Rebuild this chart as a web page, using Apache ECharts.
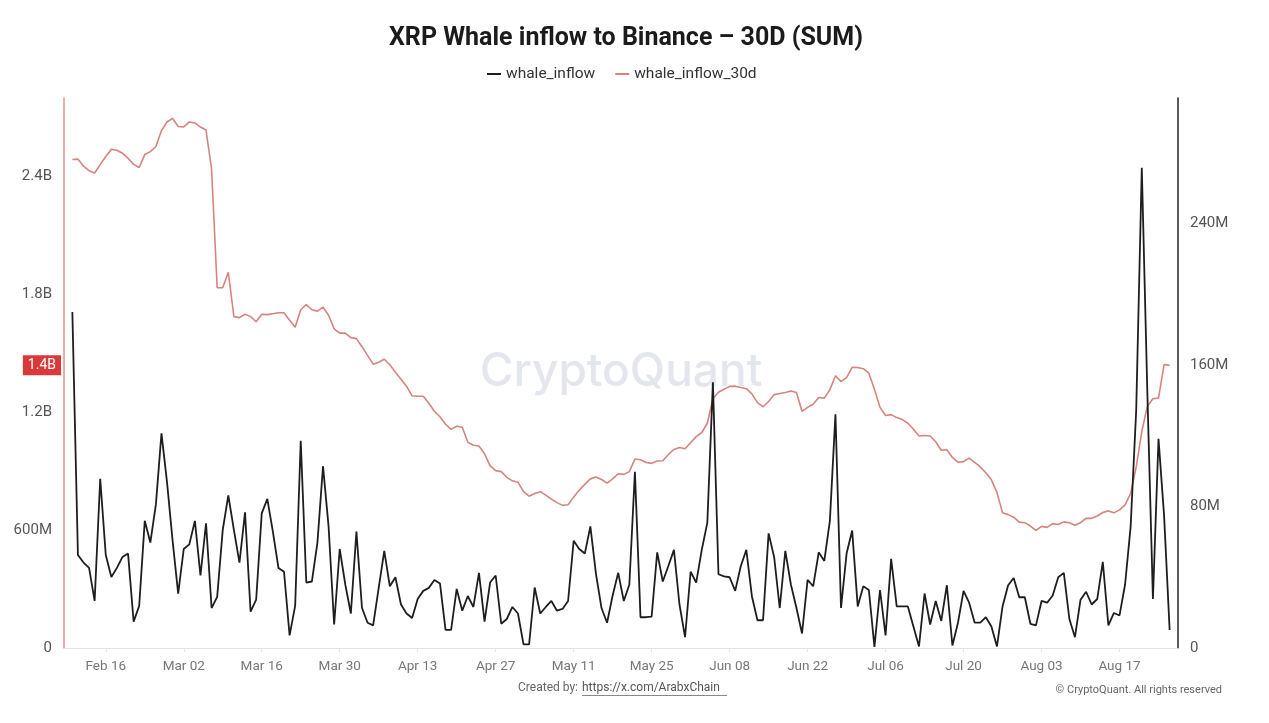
<!DOCTYPE html>
<html>
<head>
<meta charset="utf-8">
<title>XRP Whale inflow to Binance - 30D (SUM)</title>
<script src="https://cdn.jsdelivr.net/npm/echarts@6.0.0/dist/echarts.min.js"></script>
<style>
  html, body { margin: 0; padding: 0; background: #fff; }
  #chart { width: 1269px; height: 723px; }
</style>
</head>
<body>
<div id="chart"></div>
<script>
// daily points, Feb 10 2025 -> Aug 26 2025
const firstDay = new Date(2025, 1, 10);

// whale_inflow, in millions (right axis)
const whaleInflow = [
    190, 52.6, 48.3, 45.3, 26.6, 95.7, 52.6, 40.2, 45.3, 51.5,
    53.4, 14.9, 23.8, 71.9, 59.6, 81.2, 121.4, 93.6, 60.6, 30.8,
    56.0, 58.6, 71.9, 41.0, 70.5, 22.6, 28.9, 66.8, 86.3, 66.8,
    48.3, 76.7, 20.5, 27.3, 76.1, 84.3, 65.8, 45.3, 43.1, 7.1,
    23.8, 117.2, 37.0, 37.6, 59.6, 102.8, 68.8, 13.3, 56.0, 35.9,
    19.5, 65.8, 22.6, 14.3, 12.8, 34.0, 54.9, 34.9, 40.0, 24.6,
    19.5, 17.0, 27.7, 32.3, 34.0, 38.5, 36.5, 10.2, 10.2, 33.4,
    21.1, 29.4, 23.2, 42.5, 14.9, 37.0, 41.0, 13.7, 16.4, 23.2,
    19.5, 2.0, 2.0, 34.2, 19.5, 23.2, 26.6, 21.1, 22.1, 26.6,
    60.6, 56.0, 53.4, 68.8, 42.1, 22.6, 14.3, 29.7, 42.5, 26.6,
    35.9, 99.7, 17.4, 17.4, 17.8, 54.1, 37.6, 46.4, 55.5, 24.6,
    6.1, 43.1, 37.0, 55.5, 70.9, 150.2, 41.7, 40.5, 40.0, 32.3,
    46.2, 55.5, 29.3, 15.7, 15.7, 64.8, 51.3, 22.6, 54.9, 35.9,
    22.6, 8.2, 38.5, 34.9, 54.1, 49.2, 71.9, 132.2, 22.6, 53.4,
    66.4, 23.5, 34.9, 32.8, 0.6, 32.8, 7.1, 50.4, 23.5, 23.5,
    23.5, 12.2, 0.9, 30.8, 13.3, 26.6, 15.3, 35.5, 1.4, 14.3,
    32.3, 25.6, 14.3, 14.3, 17.4, 12.2, 0.9, 23.5, 35.5, 39.6,
    28.7, 28.7, 13.7, 12.8, 26.6, 25.6, 29.7, 40.0, 42.5, 16.4,
    6.1, 27.3, 31.8, 24.6, 27.7, 48.7, 12.8, 19.8, 18.4, 35.9,
    68.8, 134.7, 271.6, 144.0, 27.7, 118.3, 75.0, 10.2
];

// whale_inflow_30d, in billions (left axis)
const whaleInflow30d = [
    2.487, 2.489, 2.453, 2.430, 2.418, 2.461, 2.502, 2.539, 2.534, 2.519,
    2.493, 2.462, 2.446, 2.512, 2.527, 2.553, 2.634, 2.678, 2.696, 2.655,
    2.653, 2.678, 2.673, 2.652, 2.637, 2.436, 1.834, 1.834, 1.913, 1.687,
    1.682, 1.699, 1.687, 1.661, 1.699, 1.697, 1.702, 1.707, 1.707, 1.669,
    1.633, 1.722, 1.748, 1.722, 1.715, 1.735, 1.694, 1.625, 1.603, 1.603,
    1.580, 1.575, 1.534, 1.490, 1.445, 1.455, 1.470, 1.442, 1.404, 1.368,
    1.332, 1.284, 1.282, 1.282, 1.246, 1.205, 1.177, 1.139, 1.113, 1.129,
    1.124, 1.047, 1.032, 1.028, 0.989, 0.927, 0.903, 0.898, 0.869, 0.851,
    0.844, 0.796, 0.773, 0.787, 0.796, 0.778, 0.758, 0.740, 0.726, 0.729,
    0.768, 0.804, 0.833, 0.861, 0.870, 0.858, 0.839, 0.861, 0.887, 0.884,
    0.898, 0.962, 0.958, 0.944, 0.940, 0.952, 0.953, 0.985, 1.011, 1.021,
    1.014, 1.045, 1.076, 1.097, 1.144, 1.269, 1.302, 1.317, 1.332, 1.333,
    1.326, 1.320, 1.294, 1.249, 1.228, 1.255, 1.290, 1.296, 1.301, 1.308,
    1.301, 1.205, 1.225, 1.241, 1.275, 1.272, 1.315, 1.386, 1.356, 1.376,
    1.429, 1.428, 1.422, 1.399, 1.317, 1.225, 1.184, 1.188, 1.173, 1.163,
    1.144, 1.114, 1.079, 1.082, 1.079, 1.050, 1.007, 1.009, 0.970, 0.946,
    0.949, 0.967, 0.945, 0.922, 0.892, 0.856, 0.791, 0.688, 0.679, 0.666,
    0.641, 0.638, 0.621, 0.599, 0.619, 0.614, 0.633, 0.629, 0.642, 0.638,
    0.625, 0.638, 0.660, 0.660, 0.672, 0.690, 0.698, 0.688, 0.703, 0.729,
    0.787, 0.922, 1.102, 1.231, 1.269, 1.272, 1.443, 1.439
];

const tickLabels = ['Feb 16', 'Mar 02', 'Mar 16', 'Mar 30', 'Apr 13', 'Apr 27', 'May 11',
    'May 25', 'Jun 08', 'Jun 22', 'Jul 06', 'Jul 20', 'Aug 03', 'Aug 17'];

const leftTicks = [0, 0.6, 1.2, 1.8, 2.4];     // B
const rightTicks = [0, 80, 160, 240];          // M

const MONTHS = ['Jan', 'Feb', 'Mar', 'Apr', 'May', 'Jun', 'Jul', 'Aug', 'Sep', 'Oct', 'Nov', 'Dec'];

function dayName(d) {
    let day = d.getDate();
    return MONTHS[d.getMonth()] + ' ' + (day < 10 ? '0' + day : day);
}

// one empty day on each side, so the lines sit a little inside the axes
let categories = [];
for (let i = -1; i <= whaleInflow.length; i++) {
    categories.push(dayName(new Date(firstDay.getFullYear(), firstDay.getMonth(), firstDay.getDate() + i)));
}
const blackData = ['-'].concat(whaleInflow, ['-']);
const redData = ['-'].concat(whaleInflow30d, ['-']);

function fmtB(v) {
    if (v === 0) return '0';
    if (v < 1) return Math.round(v * 1000) + 'M';
    return (Math.round(v * 10) / 10) + 'B';
}
function fmtM(v) {
    return v === 0 ? '0' : Math.round(v) + 'M';
}

const FONT = 'Roboto';
const chart = echarts.init(document.getElementById('chart'), null, { renderer: 'canvas' });

const option = {
    animation: false,
    backgroundColor: '#ffffff',
    textStyle: { fontFamily: FONT },
    title: {
        text: 'XRP Whale inflow to Binance \u2013 30D (SUM)',
        left: 621,
        top: 21,
        textAlign: 'center',
        textStyle: { fontFamily: FONT, fontWeight: 'bold', fontSize: 25, color: '#1b1b1d' }
    },
    legend: {
        data: ['whale_inflow', 'whale_inflow_30d'],
        left: 482,
        top: 61,
        icon: 'rect',
        itemWidth: 14,
        itemHeight: 2,
        itemGap: 20,
        itemStyle: { borderWidth: 0 },
        textStyle: { fontFamily: FONT, fontSize: 15.5, color: '#333' }
    },
    grid: { left: 64, right: 91, top: 98, bottom: 75, containLabel: false },
    xAxis: {
        type: 'category',
        data: categories,
        boundaryGap: true,
        axisLine: { show: true, lineStyle: { color: '#e3e3e3', width: 1 } },
        axisTick: {
            show: true, alignWithLabel: true, length: 4,
            interval: (i, name) => tickLabels.indexOf(name) >= 0,
            lineStyle: { color: '#e3e3e3' }
        },
        axisLabel: {
            interval: (i, name) => tickLabels.indexOf(name) >= 0,
            color: '#777', fontSize: 13.5, margin: 12, fontFamily: FONT
        },
        splitLine: { show: false }
    },
    yAxis: [
        {
            type: 'value',
            position: 'left',
            min: leftTicks[0],
            max: 2.8,
            interval: leftTicks[1] - leftTicks[0],
            axisLine: { show: true, lineStyle: { color: '#e1918d', width: 1.5 } },
            axisTick: { show: false },
            splitLine: { show: false },
            axisLabel: {
                showMaxLabel: false, color: '#555', fontSize: 15, margin: 12, fontFamily: FONT,
                formatter: fmtB
            }
        },
        {
            type: 'value',
            position: 'right',
            min: rightTicks[0],
            max: 311,
            interval: rightTicks[1] - rightTicks[0],
            axisLine: { show: true, lineStyle: { color: '#222', width: 1.5 } },
            axisTick: { show: false },
            splitLine: { show: false },
            axisLabel: {
                showMaxLabel: false, color: '#555', fontSize: 15, margin: 12, fontFamily: FONT,
                formatter: fmtM
            }
        }
    ],
    graphic: [
        {
            type: 'text', z: 0, x: 621, y: 372,
            style: {
                text: 'CryptoQuant', textAlign: 'center', textVerticalAlign: 'middle',
                font: '500 46px Inter', fill: '#e4e6ee'
            }
        },
        {
            type: 'text', z: 5, x: 578, y: 688,
            style: {
                text: 'Created by:', textAlign: 'right', textVerticalAlign: 'middle',
                font: '12px Roboto', fill: '#666'
            }
        },
        {
            type: 'text', z: 5, x: 582, y: 688,
            style: {
                text: 'https://x.com/ArabxChain', textAlign: 'left', textVerticalAlign: 'middle',
                font: '12px Roboto', fill: '#555'
            }
        },
        {
            type: 'line', z: 5,
            shape: { x1: 582, y1: 695.5, x2: 727, y2: 695.5 },
            style: { stroke: '#888', lineWidth: 1 }
        },
        {
            type: 'text', z: 5, x: 1222, y: 690,
            style: {
                text: '\u00a9 CryptoQuant. All rights reserved', textAlign: 'right', textVerticalAlign: 'middle',
                font: '11px Roboto', fill: '#666'
            }
        }
    ],
    series: [
        {
            name: 'whale_inflow',
            type: 'line',
            yAxisIndex: 1,
            data: blackData,
            showSymbol: false,
            z: 4,
            color: '#1e1e1e',
            lineStyle: { color: '#1e1e1e', width: 1.8 }
        },
        {
            name: 'whale_inflow_30d',
            type: 'line',
            yAxisIndex: 0,
            data: redData,
            showSymbol: false,
            z: 3,
            color: '#d6847d',
            lineStyle: { color: '#d6847d', width: 1.6 },
            markLine: {
                silent: true,
                symbol: ['none', 'none'],
                lineStyle: { color: 'rgba(0,0,0,0)', width: 1, type: 'solid' },
                label: {
                    show: true,
                    position: 'start',
                    distance: 3,
                    formatter: (p) => fmtB(p.value),
                    backgroundColor: '#d8393b',
                    color: '#fff',
                    fontSize: 14,
                    fontFamily: FONT,
                    padding: [3, 5, 3, 5]
                },
                data: [{ yAxis: whaleInflow30d[whaleInflow30d.length - 1] }]
            }
        }
    ]
};

chart.setOption(option);

window.addEventListener('resize', function () {
    chart.resize();
});
</script>
</body>
</html>
